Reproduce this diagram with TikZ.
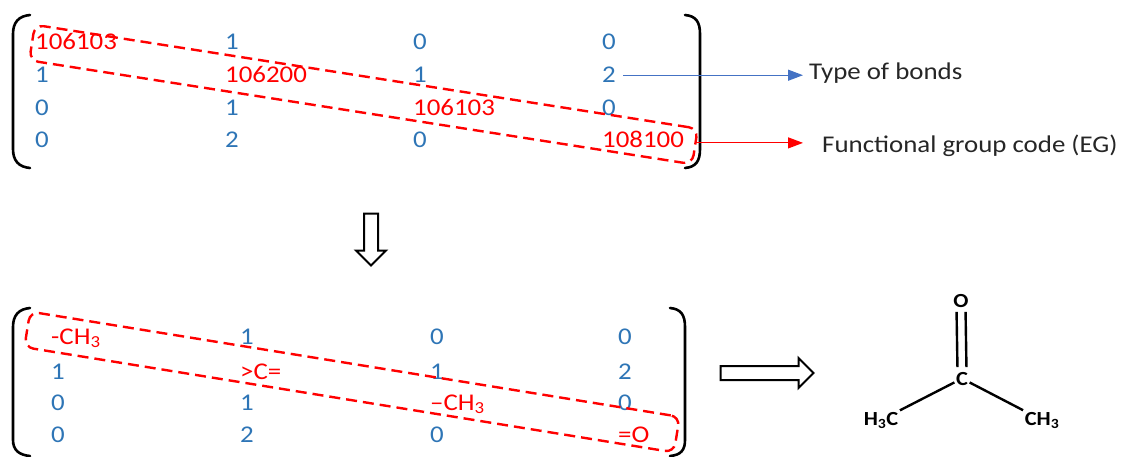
\documentclass[tikz,border=0pt]{standalone}
\usepackage{fontspec}
\setmainfont[FakeStretch=1.12]{Carlito}
\usepackage{tikz}
\usetikzlibrary{arrows, arrows.meta, positioning, shapes.arrows}
\usepackage{xcolor}
\definecolor{numblue}{HTML}{2E75B6}
\definecolor{lineblue}{HTML}{4472C4}

\begin{document}
\begin{tikzpicture}[x=1pt,y=-1pt]
    \tikzstyle{entry}=[anchor=base west, inner sep=0pt, text=numblue, font=\fontsize{24}{28}\selectfont]
    \tikzstyle{code}=[entry, text=red]
    \tikzstyle{band}=[shape=rectangle, draw=red, line width=2.4pt, dash pattern=on 11pt off 6pt, rounded corners=9pt, minimum height=36pt]
    \tikzstyle{paren}=[line width=2.6pt, line cap=round]
    \tikzstyle{label}=[anchor=base west, inner sep=0pt, font=\fontsize{24}{28}\selectfont, text=black!85]
    \tikzstyle{pointer}=[line width=1.2pt, -{Triangle[length=15pt,width=11pt]}]
    \tikzstyle{hollow}=[shape=single arrow, draw, line width=2pt, inner xsep=0pt, inner ysep=6pt, single arrow head extend=8pt]
    \tikzstyle{atom}=[anchor=base, inner sep=1.5pt, font=\fontsize{20}{24}\selectfont\bfseries]
    \tikzstyle{bond}=[line width=2.4pt]

    \useasboundingbox (0,0) rectangle (1134,457);

    % coded matrix
    \draw[paren] (30,15) .. controls (19,16) and (13,22) .. (13,34) -- (13,149) .. controls (13,161) and (19,167) .. (30,168);
    \draw[paren] (685,15) .. controls (696,16) and (700,22) .. (700,34) -- (700,149) .. controls (700,161) and (696,167) .. (685,168);
    \node[code] (T11) at (35,50) {106103};
    \node[entry] (T12) at (225,50) {1};
    \node[entry] (T13) at (413,50) {0};
    \node[entry] (T14) at (602,50) {0};
    \node[entry] (T21) at (35,83) {1};
    \node[code] (T22) at (225,83) {106200};
    \node[entry] (T23) at (413,83) {1};
    \node[entry] (T24) at (602,83) {2};
    \node[entry] (T31) at (35,116) {0};
    \node[entry] (T32) at (225,116) {1};
    \node[code] (T33) at (413,116) {106103};
    \node[entry] (T34) at (602,116) {0};
    \node[entry] (T41) at (35,148) {0};
    \node[entry] (T42) at (225,148) {2};
    \node[entry] (T43) at (413,148) {0};
    \node[code] (T44) at (602,148) {108100};
    \node[band, minimum width=671pt, rotate=-8.9] (band1) at (363.5,94.5) {};

    \node[label] (bonds) at (809,80) {Type of bonds};
    \node[label] (eg) at (822,153) {Functional group code (EG)};
    \draw[pointer, lineblue, shorten <=7pt, shorten >=6pt] (T24.east) -- (T24.east -| bonds.west);
    \draw[pointer, red, shorten <=12pt, shorten >=19pt] ([yshift=-3pt]T44.east) -- ([yshift=-3pt]T44.east -| eg.west);

    \node[hollow, minimum height=52pt, rotate=-90] (down) at (371,236) {};

    % decoded matrix
    \draw[paren] (30,308) .. controls (19,309) and (13,315) .. (13,327) -- (13,440) .. controls (13,450) and (19,455) .. (30,456);
    \draw[paren] (670,308) .. controls (681,309) and (685,315) .. (685,327) -- (685,440) .. controls (685,450) and (681,455) .. (670,456);
    \node[code] (B11) at (51,344) {-CH\textsubscript{3}};
    \node[entry] (B12) at (240,344) {1};
    \node[entry] (B13) at (430,344) {0};
    \node[entry] (B14) at (618,344) {0};
    \node[entry] (B21) at (51,379) {1};
    \node[code] (B22) at (240,379) {>C=};
    \node[entry] (B23) at (430,379) {1};
    \node[entry] (B24) at (618,379) {2};
    \node[entry] (B31) at (51,410) {0};
    \node[entry] (B32) at (240,410) {1};
    \node[code] (B33) at (430,410) {–CH\textsubscript{3}};
    \node[entry] (B34) at (618,410) {0};
    \node[entry] (B41) at (51,442) {0};
    \node[entry] (B42) at (240,442) {2};
    \node[entry] (B43) at (430,442) {0};
    \node[code] (B44) at (618,442) {=O};
    \node[band, minimum width=658pt, rotate=-9.2] (band2) at (352,382) {};

    \node[hollow, minimum height=93pt] (right) at (763.5,373) {};

    % acetone
    \node[atom] (O) at (961,307) {O};
    \node[atom] (C) at (962,385) {C};
    \node[atom] (lch) at (881,425) {H\textsubscript{3}C};
    \node[atom] (rch) at (1042,425) {CH\textsubscript{3}};
    \draw[bond, shorten <=3pt, shorten >=3pt] ([xshift=-4.5pt]O.south) -- ([xshift=-4.5pt]C.north);
    \draw[bond, shorten <=3pt, shorten >=3pt] ([xshift=4.5pt]O.south) -- ([xshift=4.5pt]C.north);
    \draw[bond] (C) -- (lch);
    \draw[bond] (C) -- (rch);
\end{tikzpicture}
\end{document}
